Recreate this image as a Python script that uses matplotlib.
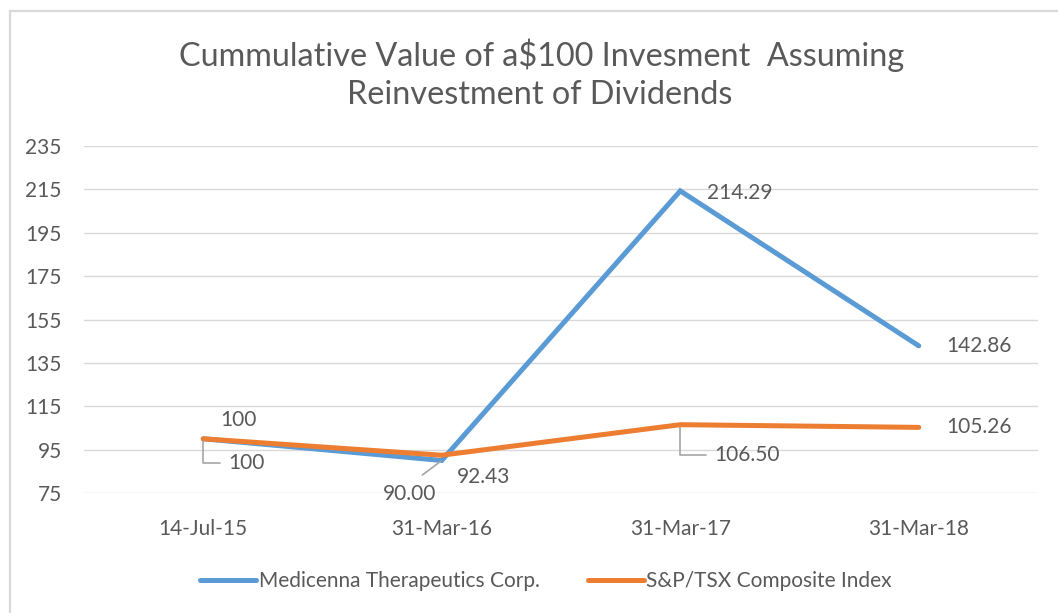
import matplotlib

matplotlib.use("Agg")
import matplotlib.pyplot as plt
from matplotlib.patches import Rectangle

plt.rcParams["font.family"] = ["Lato", "DejaVu Sans"]

# data
dates = ["14-Jul-15", "31-Mar-16", "31-Mar-17", "31-Mar-18"]
medicenna = [100, 90.00, 214.29, 142.86]
sptsx = [100, 92.43, 106.50, 105.26]
medicenna_labels = ["100", "90.00", "214.29", "142.86"]
sptsx_labels = ["100", "92.43", "106.50", "105.26"]
y_ticks = [75, 95, 115, 135, 155, 175, 195, 215, 235]

BLUE = "#5B9BD5"
ORANGE = "#ED7D31"
TEXT = "#595959"
GRID = "#D9D9D9"
LEADER = "#A6A6A6"

W, H = 1058, 613
fig = plt.figure(figsize=(W / 100, H / 100), dpi=100, facecolor="white")

# chart border (cut off on the right and bottom)
fig.patches.append(Rectangle((10 / W, -0.1), 1.2, 1 - 11 / H + 0.1, transform=fig.transFigure,
                             fill=False, edgecolor=GRID, linewidth=1.6))

ax = fig.add_axes([84 / W, (H - 493) / H, (1038 - 84) / W, (493 - 146) / H])
x = list(range(len(dates)))

ax.plot(x, medicenna, color=BLUE, lw=3.6, solid_capstyle="round", solid_joinstyle="miter",
        label="Medicenna Therapeutics Corp.", zorder=3)
ax.plot(x, sptsx, color=ORANGE, lw=3.6, solid_capstyle="round", solid_joinstyle="miter",
        label="S&P/TSX Composite Index", zorder=4)

ax.set_xlim(-0.5, len(dates) - 0.5)
ax.set_ylim(y_ticks[0], y_ticks[-1])
ax.set_yticks(y_ticks)
ax.set_xticks(x)
ax.set_xticklabels(dates)
ax.tick_params(axis="both", length=0, labelsize=15, labelcolor=TEXT)
ax.tick_params(axis="y", pad=16)
ax.tick_params(axis="x", pad=19)
ax.grid(axis="y", color=GRID, lw=1.0)
ax.set_axisbelow(True)
for s in ax.spines.values():
    s.set_visible(False)

lbl = dict(textcoords="offset pixels", fontsize=15, color=TEXT, va="center", ha="center")
leader = dict(arrowstyle="-", color=LEADER, lw=1.2, shrinkA=4, shrinkB=1)

# S&P labels
ax.annotate(sptsx_labels[0], (x[0], sptsx[0]), xytext=(35, 19), **lbl)
ax.annotate(sptsx_labels[1], (x[1], sptsx[1]), xytext=(42, -22), **lbl)
ax.annotate(sptsx_labels[2], (x[2], sptsx[2]), xytext=(67, -30),
            arrowprops=dict(leader, connectionstyle="angle,angleA=0,angleB=90,rad=0", relpos=(0, 0.5)), **lbl)
ax.annotate(sptsx_labels[3], (x[3], sptsx[3]), xytext=(60, 0), **lbl)

# Medicenna labels
ax.annotate(medicenna_labels[0], (x[0], medicenna[0]), xytext=(43, -24),
            arrowprops=dict(leader, connectionstyle="angle,angleA=0,angleB=90,rad=0", relpos=(0, 0.5)), **lbl)
ax.annotate(medicenna_labels[1], (x[1], medicenna[1]), xytext=(-32, -34),
            arrowprops=dict(leader, relpos=(0.5, 1.0), shrinkA=8), **lbl)
ax.annotate(medicenna_labels[2], (x[2], medicenna[2]), xytext=(60, -2), **lbl)
ax.annotate(medicenna_labels[3], (x[3], medicenna[3]), xytext=(60, 0), **lbl)

fig.text(542 / W, 1 - 55 / H, "Cummulative Value of a$100 Invesment  Assuming",
         ha="center", va="center", fontsize=23.3, color=TEXT)
fig.text(540 / W, 1 - 95 / H, "Reinvestment of Dividends",
         ha="center", va="center", fontsize=23.3, color=TEXT)

fig.legend(loc="center", bbox_to_anchor=(546 / W, 1 - 581 / H), ncol=2, frameon=False,
           fontsize=15, labelcolor=TEXT, handlelength=2.7, handletextpad=0.12, columnspacing=2.3)

fig.savefig("out.png", dpi=100)
